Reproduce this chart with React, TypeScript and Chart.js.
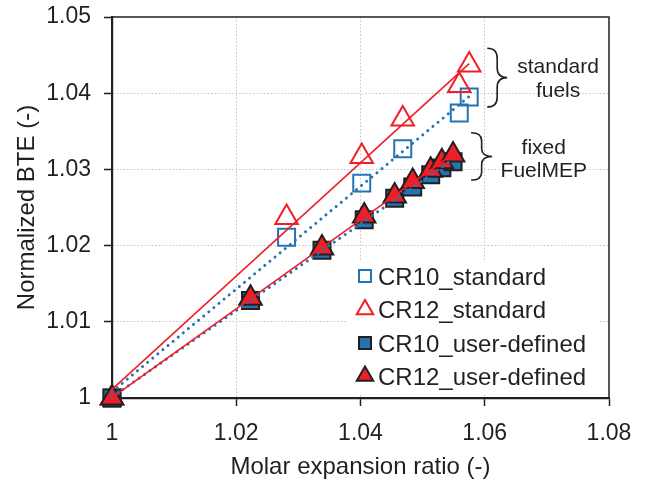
import React, { useEffect, useRef } from 'react';
import { Chart, registerables } from 'chart.js';

Chart.register(...registerables);

// ---- data ----
const stdX = [1, 1.0281, 1.0402, 1.0468, 1.0559, 1.0575];
const cr10Std = [1, 1.0211, 1.0282, 1.0327, 1.0374, 1.0395];
const cr12Std = [1, 1.0237, 1.0317, 1.0366, 1.041, 1.0437];

const userX = [1, 1.0223, 1.0338, 1.0406, 1.0455, 1.0484, 1.0513, 1.0531, 1.0549];
const cr10User = [1, 1.0128, 1.0194, 1.0234, 1.0262, 1.0277, 1.0293, 1.0302, 1.031];
const cr12User = [1, 1.0131, 1.0197, 1.0239, 1.0265, 1.0284, 1.0299, 1.031, 1.0319];

const seriesNames = ['CR10_standard', 'CR12_standard', 'CR10_user-defined', 'CR12_user-defined'];

const xTitle = 'Molar expansion ratio (-)';
const yTitle = 'Normalized BTE (-)';

const xMin = 1;
const xMax = 1.08;
const xStep = 0.02;
const yMin = 1;
const yMax = 1.05;
const yStep = 0.01;

// annotation anchors (data units)
const braceStd = { x: 1.0604, yTop: 1.0459, yBot: 1.0382, w: 0.0032 };
const braceUser = { x: 1.0578, yTop: 1.0348, yBot: 1.0286, w: 0.0034 };
const noteStd = { x: 1.0718, lines: ['standard', 'fuels'], y: [1.0434, 1.0402] };
const noteUser = { x: 1.0695, lines: ['fixed', 'FuelMEP'], y: [1.0328, 1.0297] };

const BLUE = '#2673B2';
const RED = '#EE1F26';
const DARK = '#231F20';
const GRID = '#c4c4c4';
const FONT = "'Liberation Sans', Arial, Helvetica, sans-serif";

function pts(xs: number[], ys: number[]) {
  return xs.map((x, i) => ({ x, y: ys[i] }));
}

function trend(xs: number[], ys: number[]) {
  const n = xs.length;
  const mx = xs.reduce((a, b) => a + b, 0) / n;
  const my = ys.reduce((a, b) => a + b, 0) / n;
  let sxy = 0;
  let sxx = 0;
  for (let i = 0; i < n; i++) {
    sxy += (xs[i] - mx) * (ys[i] - my);
    sxx += (xs[i] - mx) * (xs[i] - mx);
  }
  const b = sxy / sxx;
  const a = my - b * mx;
  const x0 = Math.min(...xs);
  const x1 = Math.max(...xs);
  return [
    { x: x0, y: a + b * x0 },
    { x: x1, y: a + b * x1 },
  ];
}

function drawMarker(
  ctx: CanvasRenderingContext2D,
  style: string,
  x: number,
  y: number,
  r: number,
  fill: string,
  stroke: string,
  lw: number
) {
  ctx.save();
  ctx.beginPath();
  if (style === 'rect') {
    const s = Math.SQRT1_2 * r;
    ctx.rect(x - s, y - s, 2 * s, 2 * s);
  } else {
    let rad = 0;
    for (let i = 0; i < 3; i++) {
      const px = x + Math.sin(rad) * r;
      const py = y - Math.cos(rad) * r;
      if (i === 0) ctx.moveTo(px, py);
      else ctx.lineTo(px, py);
      rad += (2 * Math.PI) / 3;
    }
    ctx.closePath();
  }
  ctx.fillStyle = fill;
  ctx.fill();
  ctx.lineWidth = lw;
  ctx.strokeStyle = stroke;
  ctx.lineJoin = 'miter';
  ctx.stroke();
  ctx.restore();
}

function drawBrace(ctx: CanvasRenderingContext2D, x: number, yTop: number, yBot: number, w: number) {
  const yMid = (yTop + yBot) / 2;
  const xm = x + w / 2;
  const q = Math.min(w / 2, (yBot - yTop) / 6);
  ctx.save();
  ctx.beginPath();
  ctx.moveTo(x, yTop);
  ctx.quadraticCurveTo(xm, yTop, xm, yTop + q);
  ctx.lineTo(xm, yMid - q);
  ctx.quadraticCurveTo(xm, yMid, x + w, yMid);
  ctx.quadraticCurveTo(xm, yMid, xm, yMid + q);
  ctx.lineTo(xm, yBot - q);
  ctx.quadraticCurveTo(xm, yBot, x, yBot);
  ctx.lineWidth = 1.6;
  ctx.strokeStyle = DARK;
  ctx.stroke();
  ctx.restore();
}

const overlayPlugin = {
  id: 'overlay',
  afterDraw(chart: any) {
    const ctx: CanvasRenderingContext2D = chart.ctx;
    const { left, right, top, bottom } = chart.chartArea;
    const xs = chart.scales.x;
    const ys = chart.scales.y;

    // top & right frame
    ctx.save();
    ctx.strokeStyle = DARK;
    ctx.lineWidth = 1.5;
    ctx.beginPath();
    ctx.moveTo(left, top);
    ctx.lineTo(right, top);
    ctx.lineTo(right, bottom);
    ctx.stroke();
    ctx.restore();

    // legend
    const lx = left + 235;
    const ly = top + 245;
    const lw = right - 9 - lx;
    const lh = bottom - 5 - ly;
    ctx.save();
    ctx.fillStyle = '#ffffff';
    ctx.fillRect(lx, ly, lw, lh);
    const mx = lx + 18;
    const rows = [ly + 14, ly + 47.5, ly + 81, ly + 114];
    const mk = [
      { s: 'rect', f: 'rgba(0,0,0,0)', c: BLUE, w: 2 },
      { s: 'triangle', f: 'rgba(0,0,0,0)', c: RED, w: 2 },
      { s: 'rect', f: BLUE, c: DARK, w: 2 },
      { s: 'triangle', f: RED, c: DARK, w: 2 },
    ];
    ctx.font = `24px ${FONT}`;
    ctx.fillStyle = DARK;
    ctx.textAlign = 'left';
    ctx.textBaseline = 'alphabetic';
    seriesNames.forEach((name, i) => {
      const m = mk[i];
      drawMarker(ctx, m.s, mx, rows[i], m.s === 'rect' ? 8.5 : 9.5, m.f, m.c, m.w);
      ctx.fillStyle = DARK;
      ctx.fillText(name, mx + 13, rows[i] + 8.5);
    });
    ctx.restore();

    // braces & notes
    const b1 = xs.getPixelForValue(braceStd.x);
    const b1w = xs.getPixelForValue(braceStd.x + braceStd.w) - b1;
    drawBrace(ctx, b1, ys.getPixelForValue(braceStd.yTop), ys.getPixelForValue(braceStd.yBot), b1w);
    const b2 = xs.getPixelForValue(braceUser.x);
    const b2w = xs.getPixelForValue(braceUser.x + braceUser.w) - b2;
    drawBrace(ctx, b2, ys.getPixelForValue(braceUser.yTop), ys.getPixelForValue(braceUser.yBot), b2w);

    ctx.save();
    ctx.font = `21px ${FONT}`;
    ctx.fillStyle = DARK;
    ctx.textAlign = 'center';
    ctx.textBaseline = 'middle';
    [noteStd, noteUser].forEach((n) => {
      n.lines.forEach((t, i) => {
        ctx.fillText(t, xs.getPixelForValue(n.x), ys.getPixelForValue(n.y[i]));
      });
    });
    ctx.restore();
  },
};

function fmt(v: any) {
  return String(Number(Number(v).toFixed(2)));
}

export default function App() {
  const ref = useRef<HTMLCanvasElement | null>(null);

  useEffect(() => {
    if (!ref.current) return;
    const dotted = {
      borderColor: BLUE,
      borderWidth: 3,
      borderDash: [0.01, 6.6],
      borderCapStyle: 'round',
    };
    const solid = { borderColor: RED, borderWidth: 1.6 };
    const trendBase = {
      type: 'line',
      showLine: true,
      pointRadius: 0,
      pointHoverRadius: 0,
      fill: false,
      clip: false,
    };
    const chart = new Chart(ref.current, {
      type: 'scatter',
      data: {
        datasets: [
          { ...trendBase, ...solid, label: 't12u', data: trend(userX, cr12User) } as any,
          { ...trendBase, ...dotted, label: 't10u', data: trend(userX, cr10User) } as any,
          { ...trendBase, ...solid, label: 't12s', data: trend(stdX, cr12Std) } as any,
          { ...trendBase, ...dotted, label: 't10s', data: trend(stdX, cr10Std) } as any,
          {
            label: seriesNames[3],
            data: pts(userX, cr12User),
            pointStyle: 'triangle',
            pointRadius: 13,
            pointBackgroundColor: RED,
            pointBorderColor: DARK,
            pointBorderWidth: 2,
            clip: false,
          } as any,
          {
            label: seriesNames[2],
            data: pts(userX, cr10User),
            pointStyle: 'rect',
            pointRadius: 12,
            pointBackgroundColor: BLUE,
            pointBorderColor: DARK,
            pointBorderWidth: 2,
            clip: false,
          } as any,
          {
            label: seriesNames[1],
            data: pts(stdX, cr12Std),
            pointStyle: 'triangle',
            pointRadius: 13,
            pointBackgroundColor: 'rgba(0,0,0,0)',
            pointBorderColor: RED,
            pointBorderWidth: 2,
            clip: false,
          } as any,
          {
            label: seriesNames[0],
            data: pts(stdX, cr10Std),
            pointStyle: 'rect',
            pointRadius: 12,
            pointBackgroundColor: 'rgba(0,0,0,0)',
            pointBorderColor: BLUE,
            pointBorderWidth: 2,
            clip: false,
          } as any,
        ],
      },
      options: {
        responsive: false,
        animation: false,
        events: [],
        layout: { padding: { left: 0, top: 17, right: 39, bottom: 0 } },
        plugins: {
          legend: { display: false },
          tooltip: { enabled: false },
        },
        scales: {
          x: {
            type: 'linear',
            min: xMin,
            max: xMax,
            afterFit: (s: any) => {
              s.height = 83;
              s.paddingLeft = 0;
              s.paddingRight = 0;
            },
            ticks: {
              stepSize: xStep,
              callback: fmt,
              color: DARK,
              font: { family: FONT, size: 23 },
              padding: 14,
              maxRotation: 0,
            },
            grid: {
              color: (c: any) => {
                const v = c.tick ? c.tick.value : null;
                if (v === null || Math.abs(v - xMin) < 1e-6 || Math.abs(v - xMax) < 1e-6) return 'rgba(0,0,0,0)';
                return GRID;
              },
              tickColor: DARK,
              tickLength: 8,
              lineWidth: 1,
              tickWidth: 1.5,
            },
            border: { display: true, color: DARK, width: 2.2, dash: [1.5, 2] },
            title: {
              display: true,
              text: xTitle,
              color: DARK,
              font: { family: FONT, size: 24 },
              padding: { top: 0, bottom: -1 },
            },
          },
          y: {
            type: 'linear',
            min: yMin,
            max: yMax,
            afterFit: (s: any) => {
              s.width = 112;
              s.paddingTop = 0;
              s.paddingBottom = 0;
            },
            ticks: {
              stepSize: yStep,
              callback: fmt,
              color: DARK,
              font: { family: FONT, size: 23 },
              padding: 13,
            },
            grid: {
              color: (c: any) => {
                const v = c.tick ? c.tick.value : null;
                if (v === null || Math.abs(v - yMin) < 1e-6 || Math.abs(v - yMax) < 1e-6) return 'rgba(0,0,0,0)';
                return GRID;
              },
              tickColor: DARK,
              tickLength: 8,
              lineWidth: 1,
              tickWidth: 1.5,
            },
            border: { display: true, color: DARK, width: 2.2, dash: [1.5, 2] },
            title: {
              display: true,
              text: yTitle,
              color: DARK,
              font: { family: FONT, size: 24 },
              padding: { top: 13, bottom: 0 },
            },
          },
        },
      },
      plugins: [overlayPlugin],
    } as any);
    return () => chart.destroy();
  }, []);

  return (
    <div style={{ position: 'fixed', left: 0, top: 0, width: 648, height: 481, background: '#fff' }}>
      <canvas ref={ref} width={648} height={481} style={{ display: 'block', width: 648, height: 481 }} />
    </div>
  );
}
